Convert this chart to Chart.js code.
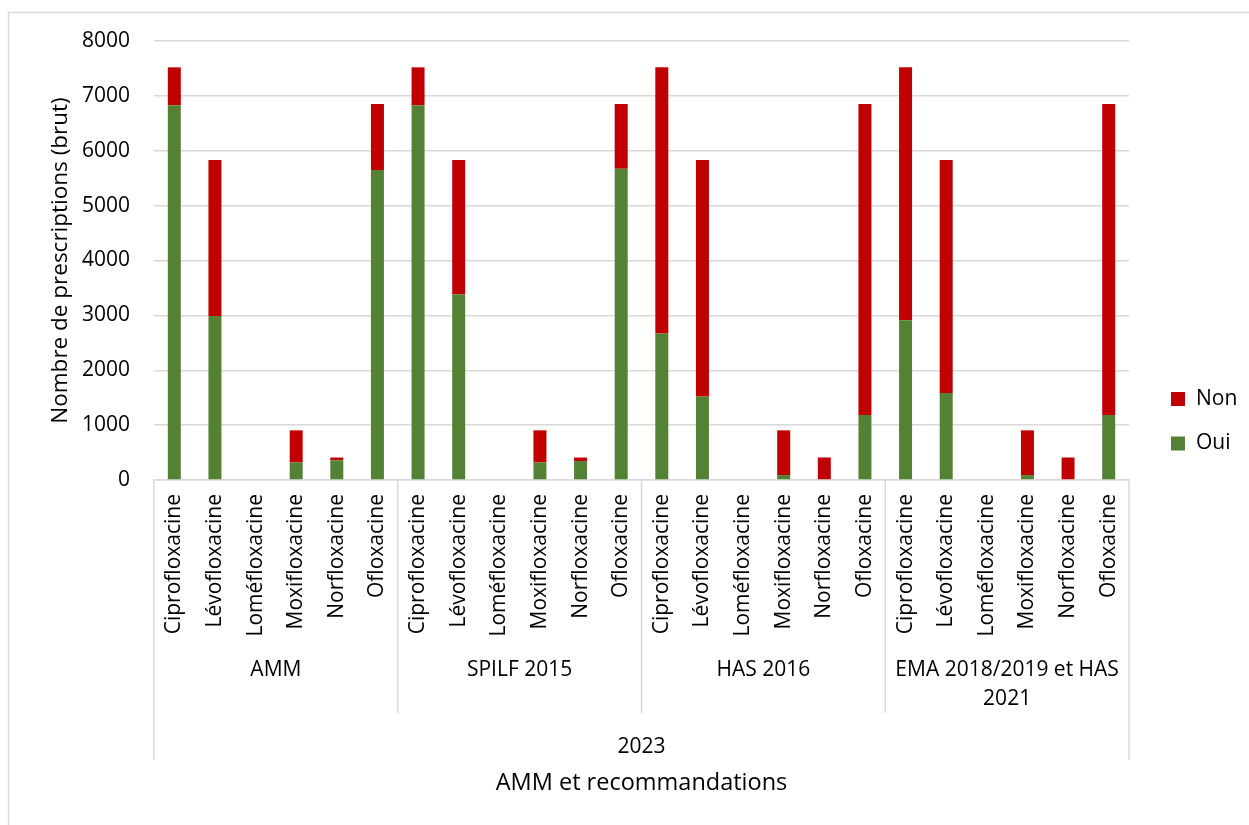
<!DOCTYPE html>
<html>
<head>
<meta charset="utf-8">
<script src="https://cdn.jsdelivr.net/npm/chart.js@4/dist/chart.umd.min.js"></script>
<style>
  html, body { margin: 0; padding: 0; background: #fff; }
  #wrap { position: relative; width: 1249px; height: 825px; }
  canvas { display: block; }
</style>
</head>
<body>
<div id="wrap"><canvas id="c" width="1249" height="825"></canvas></div>
<script>
// ---- Data ----
const drugs = ['Ciprofloxacine', 'Lévofloxacine', 'Loméfloxacine', 'Moxifloxacine', 'Norfloxacine', 'Ofloxacine'];
const groups = [['AMM'], ['SPILF 2015'], ['HAS 2016'], ['EMA 2018/2019 et HAS', '2021']];
const topGroup = '2023';
const xTitle = 'AMM et recommandations';
const yTitle = 'Nombre de prescriptions (brut)';
const seriesNames = ['Oui', 'Non'];
const oui = [6830, 2990, 0, 320, 360, 5650,
             6830, 3380, 0, 320, 345, 5670,
             2670, 1520, 0, 90, 0, 1185,
             2910, 1585, 0, 90, 0, 1185];
const non = [690, 2840, 0, 585, 50, 1200,
             690, 2450, 0, 585, 65, 1180,
             4850, 4310, 0, 815, 410, 5665,
             4610, 4245, 0, 815, 410, 5665];
const yMin = 0, yMax = 8000, yStep = 1000;

// ---- Build labels ----
const labels = [];
groups.forEach(() => drugs.forEach(d => labels.push(d)));

const FONT = 'Open Sans';
const FS = 21;
const GRID = '#d9d9d9';
const TXT = '#000000';

const groupPlugin = {
  id: 'groupAxis',
  afterDraw(chart) {
    const ctx = chart.ctx;
    const xs = chart.scales.x;
    const area = chart.chartArea;
    const n = drugs.length;
    ctx.save();
    // outer frame
    ctx.strokeStyle = GRID;
    ctx.lineWidth = 1.5;
    ctx.strokeRect(8.5, 12.5, 1400, 1000);
    // separators
    const bottomY = area.bottom;
    const edges = [];
    for (let g = 0; g <= groups.length; g++) {
      let x;
      if (g === 0) x = xs.left;
      else if (g === groups.length) x = xs.right;
      else x = (xs.getPixelForValue(g * n - 1) + xs.getPixelForValue(g * n)) / 2;
      edges.push(x);
      const y2 = (g === 0 || g === groups.length) ? 760 : 713;
      ctx.beginPath();
      ctx.moveTo(x, bottomY);
      ctx.lineTo(x, y2);
      ctx.stroke();
    }
    // group labels
    ctx.fillStyle = TXT;
    ctx.font = FS + 'px "' + FONT + '"';
    ctx.textAlign = 'center';
    ctx.textBaseline = 'middle';
    groups.forEach((lines, g) => {
      const cx = (edges[g] + edges[g + 1]) / 2;
      lines.forEach((t, i) => ctx.fillText(t, cx, 670 + i * 29));
    });
    // top-level group
    ctx.fillText(topGroup, (xs.left + xs.right) / 2, 747);
    // legend (reverse order)
    const ds = chart.data.datasets.slice().reverse();
    ds.forEach((d, i) => {
      const cy = 399 + i * 44.5;
      ctx.fillStyle = d.backgroundColor;
      ctx.fillRect(1171, cy - 7, 14, 14);
      ctx.fillStyle = TXT;
      ctx.textAlign = 'left';
      ctx.fillText(d.label, 1196, cy);
    });
    ctx.restore();
  }
};

new Chart(document.getElementById('c'), {
  type: 'bar',
  data: {
    labels: labels,
    datasets: [
      { label: seriesNames[0], data: oui, backgroundColor: '#548235', borderWidth: 0 },
      { label: seriesNames[1], data: non, backgroundColor: '#C00000', borderWidth: 0 }
    ]
  },
  options: {
    responsive: false,
    animation: false,
    devicePixelRatio: 1,
    layout: { padding: { left: 0, top: 41, right: 120, bottom: 0 } },
    plugins: { legend: { display: false }, tooltip: { enabled: false } },
    datasets: { bar: { barPercentage: 0.32, categoryPercentage: 1.0 } },
    scales: {
      x: {
        stacked: true,
        grid: { display: false, drawTicks: false },
        border: { display: true, color: GRID, width: 1.5 },
        ticks: {
          autoSkip: false, minRotation: 90, maxRotation: 90, padding: 14,
          color: TXT, font: { family: FONT, size: FS }
        },
        title: {
          display: true, text: xTitle, color: TXT,
          font: { family: FONT, size: 23.5 }, padding: { top: 0, bottom: 28 }
        },
        afterFit(scale) { scale.height = 345; }
      },
      y: {
        stacked: true,
        min: yMin, max: yMax,
        grid: { color: GRID, lineWidth: 1.5, drawTicks: false },
        border: { display: false },
        ticks: {
          stepSize: yStep, padding: 24, color: TXT,
          font: { family: FONT, size: FS },
          callback: (v) => String(v)
        },
        title: {
          display: true, text: yTitle, color: TXT,
          font: { family: FONT, size: 22.5 }, padding: { top: 47, bottom: 0 }
        },
        afterFit(scale) { scale.width = 154; }
      }
    }
  },
  plugins: [groupPlugin]
});
</script>
</body>
</html>
